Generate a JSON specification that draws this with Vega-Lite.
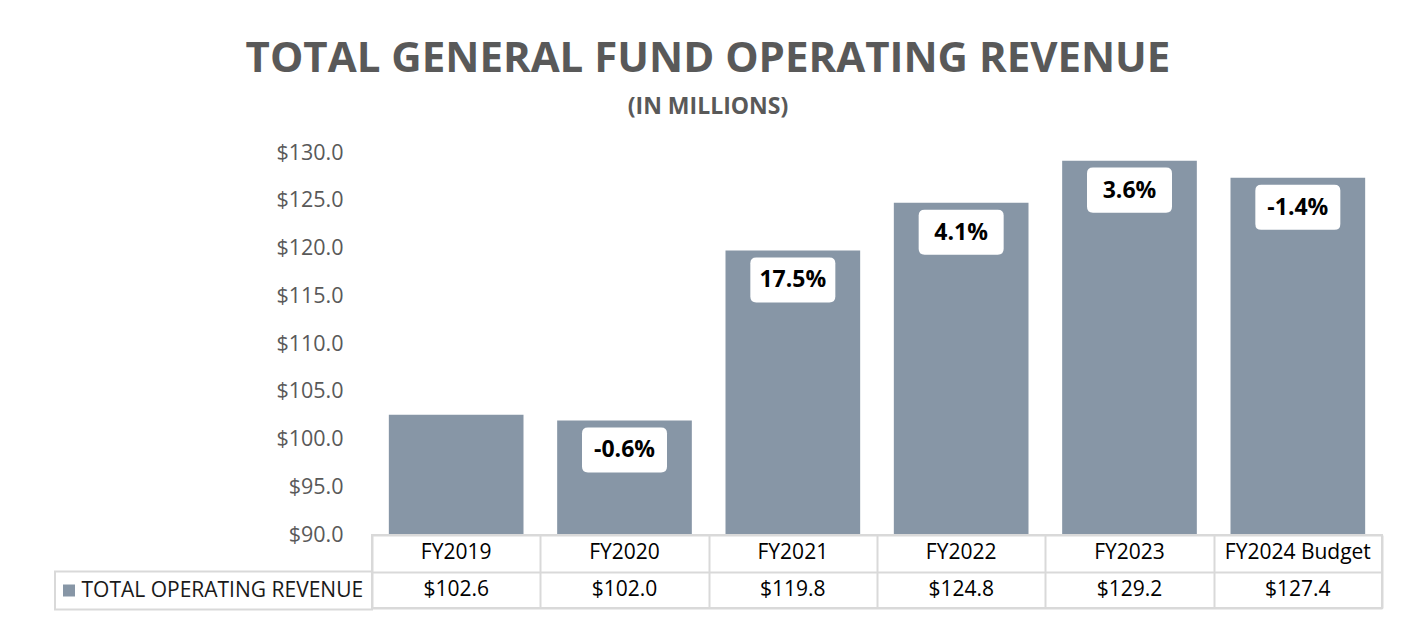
{
  "$schema": "https://vega.github.io/schema/vega-lite/v6.json",
  "padding": {"left": 53, "top": 38, "right": 20, "bottom": 5},
  "background": "white",
  "bounds": "flush",
  "spacing": 0,
  "title": {
    "text": "TOTAL GENERAL FUND OPERATING REVENUE",
    "subtitle": "(IN MILLIONS)",
    "fontSize": 42,
    "fontWeight": "bold",
    "color": "#595959",
    "subtitleFontSize": 23,
    "subtitleFontWeight": "bold",
    "subtitleColor": "#595959",
    "subtitlePadding": 15,
    "anchor": "middle",
    "dx": -10,
    "offset": 22
  },
  "data": {
    "values": [
      {"year": "FY2019", "revenue": 102.6, "change": null},
      {"year": "FY2020", "revenue": 102.0, "change": -0.006},
      {"year": "FY2021", "revenue": 119.8, "change": 0.175},
      {"year": "FY2022", "revenue": 124.8, "change": 0.041},
      {"year": "FY2023", "revenue": 129.2, "change": 0.036},
      {"year": "FY2024 Budget", "revenue": 127.4, "change": -0.014}
    ]
  },
  "resolve": {"legend": {"color": "independent"}},
  "vconcat": [
    {
      "width": 1010,
      "height": 382,
      "view": {"stroke": null},
      "encoding": {
        "x": {
          "field": "year", "type": "nominal", "sort": null,
          "scale": {"type": "band", "paddingInner": 0.2, "paddingOuter": 0.1},
          "axis": null
        },
        "y": {
          "field": "revenue", "type": "quantitative",
          "scale": {"domain": [90, 130], "nice": false, "zero": false},
          "axis": {
            "values": [90, 95, 100, 105, 110, 115, 120, 125, 130],
            "format": "$.1f", "title": null, "domain": false, "ticks": false, "grid": false,
            "labelFontSize": 21.5, "labelColor": "#595959", "labelPadding": 29
          }
        }
      },
      "layer": [
        {"mark": {"type": "bar", "color": "#8796A6"}, "encoding": {"y2": {"datum": 90}}},
        {
          "transform": [{"filter": "datum.change != null"}],
          "mark": {
            "type": "point",
            "shape": "M-0.86,-0.53 L0.86,-0.53 Q1,-0.53 1,-0.39 L1,0.39 Q1,0.53 0.86,0.53 L-0.86,0.53 Q-1,0.53 -1,0.39 L-1,-0.39 Q-1,-0.53 -0.86,-0.53 Z",
            "size": 7225, "filled": true, "fill": "white", "strokeWidth": 0, "opacity": 1, "yOffset": 29.5
          }
        },
        {
          "transform": [{"filter": "datum.change != null"}],
          "mark": {"type": "text", "fontSize": 23, "fontWeight": "bold", "color": "black", "yOffset": 30, "baseline": "middle"},
          "encoding": {"text": {"field": "change", "type": "quantitative", "format": ".1%"}}
        }
      ]
    },
    {
      "width": 1010,
      "height": 73,
      "view": {"stroke": "#d9d9d9", "strokeWidth": 2},
      "encoding": {
        "x": {
          "field": "year", "type": "nominal", "sort": null,
          "scale": {"type": "band", "paddingInner": 0, "paddingOuter": 0},
          "axis": {"title": null, "labels": false, "ticks": false, "domain": false, "grid": true, "tickBand": "extent", "gridColor": "#d9d9d9", "gridWidth": 2}
        }
      },
      "layer": [
        {
          "mark": {"type": "text", "fontSize": 21, "color": "black"},
          "encoding": {
            "y": {
              "datum": "h", "type": "nominal",
              "scale": {"type": "band", "domain": ["h", "v"], "paddingInner": 0, "paddingOuter": 0},
              "axis": {"title": null, "labels": false, "ticks": false, "domain": false, "grid": true, "tickBand": "extent", "gridColor": "#d9d9d9", "gridWidth": 2}
            },
            "text": {"field": "year"}
          }
        },
        {
          "mark": {"type": "text", "fontSize": 21, "color": "black"},
          "encoding": {
            "y": {"datum": "v", "type": "nominal"},
            "text": {"field": "revenue", "type": "quantitative", "format": "$.1f"}
          }
        },
        {
          "mark": {"type": "square", "opacity": 0},
          "encoding": {
            "y": {"datum": "v", "type": "nominal"},
            "color": {
              "datum": "TOTAL OPERATING REVENUE", "type": "nominal",
              "scale": {"range": ["#8796A6"]},
              "legend": {
                "orient": "none", "legendX": -317, "legendY": 36.5, "title": null,
                "padding": 8.5, "symbolType": "square", "symbolSize": 144, "symbolOpacity": 1,
                "symbolStrokeWidth": 0, "symbolOffset": -5, "labelFontSize": 21, "labelColor": "#1a1a1a", "labelOffset": 2,
                "labelLimit": 400, "strokeColor": "#d9d9d9"
              }
            }
          }
        }
      ]
    }
  ],
  "config": {
    "font": "Open Sans",
    "legend": {"strokeWidth": 2},
    "locale": {"number": {"decimal": ".", "thousands": ",", "grouping": [3], "currency": ["$", ""], "minus": "-"}}
  }
}
